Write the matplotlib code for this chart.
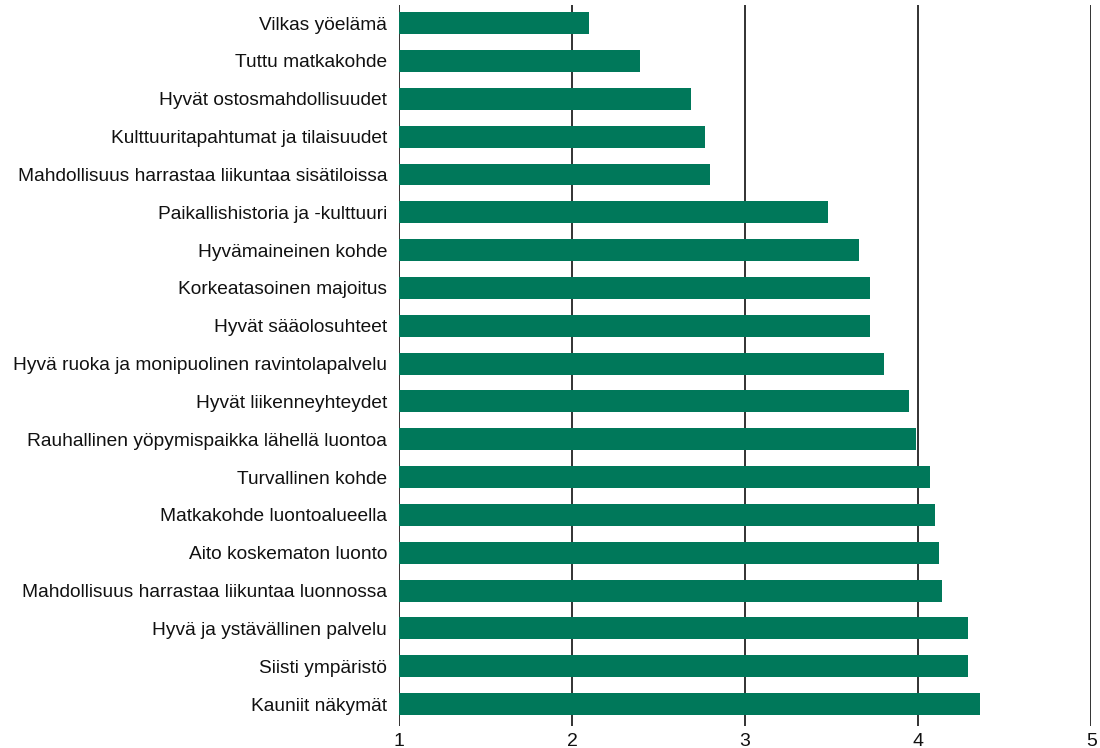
import matplotlib
matplotlib.use("Agg")
import matplotlib.pyplot as plt

# values (top to bottom)
labels = [
    "Vilkas yöelämä",
    "Tuttu matkakohde",
    "Hyvät ostosmahdollisuudet",
    "Kulttuuritapahtumat ja tilaisuudet",
    "Mahdollisuus harrastaa liikuntaa sisätiloissa",
    "Paikallishistoria ja -kulttuuri",
    "Hyvämaineinen kohde",
    "Korkeatasoinen majoitus",
    "Hyvät sääolosuhteet",
    "Hyvä ruoka ja monipuolinen ravintolapalvelu",
    "Hyvät liikenneyhteydet",
    "Rauhallinen yöpymispaikka lähellä luontoa",
    "Turvallinen kohde",
    "Matkakohde luontoalueella",
    "Aito koskematon luonto",
    "Mahdollisuus harrastaa liikuntaa luonnossa",
    "Hyvä ja ystävällinen palvelu",
    "Siisti ympäristö",
    "Kauniit näkymät",
]
values = [2.10, 2.39, 2.69, 2.77, 2.80, 3.48, 3.66, 3.72, 3.72, 3.80,
          3.95, 3.99, 4.07, 4.10, 4.12, 4.14, 4.29, 4.29, 4.36]
xticks = [1, 2, 3, 4, 5]

plt.rcParams['font.family'] = ['Liberation Sans', 'DejaVu Sans']

fig = plt.figure(figsize=(11, 7.48), dpi=100)
ax = fig.add_axes([0.3627, 0.0294, 0.992 - 0.3627, 0.9933 - 0.0294])

ypos = list(range(len(labels)))
for x in xticks:
    ax.axvline(x, color="#222222", lw=1.3, zorder=0)
ax.barh(ypos, [v - 1 for v in values], left=1, height=0.58, color="#00785A", zorder=2)

ax.set_xlim(1, 5)
ax.set_ylim(len(labels) - 1 + 0.58, -0.48)
ax.set_yticks(ypos)
ax.set_yticklabels(labels, fontsize=13.8, color="#111111")
ax.set_xticks(xticks)
ax.set_xticklabels([str(x) for x in xticks], fontsize=14, color="#111111")
ax.tick_params(axis="y", length=0, pad=8.5)
ax.tick_params(axis="x", length=0, pad=5)
for s in ax.spines.values():
    s.set_visible(False)

fig.savefig("out.png", dpi=100)
